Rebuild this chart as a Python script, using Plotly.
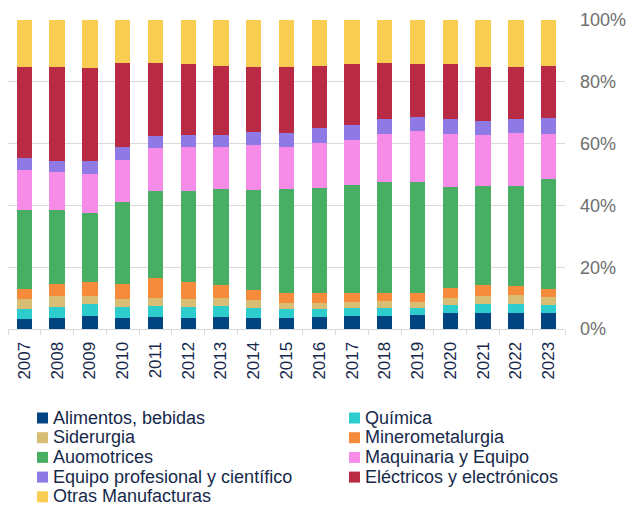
import plotly.graph_objects as go

years = [str(y) for y in range(2007, 2024)]

series_names = [
    "Alimentos, bebidas", "Química", "Siderurgia", "Minerometalurgia",
    "Auomotrices", "Maquinaria y Equipo", "Equipo profesional y científico",
    "Eléctricos y electrónicos", "Otras Manufacturas",
]
series_colors = [
    "#004481", "#2DCCCD", "#D8BE75", "#F78B3C", "#48AE64",
    "#F78BE8", "#8F7AE5", "#B92A45", "#F8CD51",
]

alimentos = [3.1, 3.5, 4.2, 3.7, 3.8, 3.7, 3.8, 3.5, 3.7, 3.9, 4.2, 4.2, 4.4, 5.3, 5.3, 5.3, 5.3]
quimica = [3.4, 3.5, 3.9, 3.4, 3.6, 3.5, 3.5, 3.3, 2.9, 2.7, 2.7, 2.6, 2.5, 2.6, 2.8, 2.8, 2.6]
siderurgia = [3.1, 3.8, 2.6, 2.6, 2.7, 2.5, 2.7, 2.6, 1.9, 1.8, 1.7, 2.3, 1.9, 2.1, 2.7, 3.0, 2.4]
minero = [3.4, 3.7, 4.5, 5.0, 6.3, 5.6, 4.1, 3.2, 3.1, 3.4, 3.1, 2.7, 3.0, 3.3, 3.4, 2.9, 2.6]
automotrices = [25.5, 24.0, 22.2, 26.4, 28.4, 29.3, 31.1, 32.5, 33.6, 33.8, 34.8, 35.8, 35.9, 32.8, 32.1, 32.4, 35.6]
maquinaria = [13.1, 12.2, 12.8, 13.6, 13.9, 14.4, 13.6, 14.3, 13.8, 14.6, 14.8, 15.6, 16.4, 17.1, 16.5, 17.1, 14.6]
equipo_prof = [3.7, 3.8, 4.3, 4.1, 3.8, 3.9, 4.0, 4.4, 4.5, 4.8, 4.6, 4.8, 4.6, 4.8, 4.5, 4.5, 5.2]
electricos = [29.5, 30.4, 30.0, 27.4, 23.5, 22.8, 22.3, 21.1, 21.2, 20.0, 20.0, 18.1, 17.2, 17.9, 17.6, 16.8, 16.8]
otras = [15.2, 15.1, 15.5, 13.8, 14.0, 14.3, 14.9, 15.1, 15.3, 15.0, 14.1, 13.9, 14.1, 14.1, 15.1, 15.2, 14.9]

series_values = [alimentos, quimica, siderurgia, minero, automotrices,
                 maquinaria, equipo_prof, electricos, otras]

y_ticks = [0, 20, 40, 60, 80, 100]
y_tick_labels = ["0%", "20%", "40%", "60%", "80%", "100%"]

FONT = "Arial, Liberation Sans, sans-serif"
NAVY = "#16294B"

fig = go.Figure()
for name, color, vals in zip(series_names, series_colors, series_values):
    fig.add_trace(go.Bar(x=years, y=vals, name=name, marker_color=color,
                         marker_line_width=0, showlegend=False))

# plot area in pixels (for manual legend placement)
W, H = 640, 507
L, R, T, B = 8, 75, 20, 178
pw, ph = W - L - R, H - T - B

def px_to_paper(x, y):
    return (x - L) / pw, (H - B - y) / ph

shapes = []
annotations = []
for i, (name, color) in enumerate(zip(series_names, series_colors)):
    col, row = i % 2, i // 2
    sx = 37 if col == 0 else 349
    cy = 418 + 19.7 * row
    x0, y0 = px_to_paper(sx, cy + 5.5)
    x1, y1 = px_to_paper(sx + 11, cy - 5.5)
    shapes.append(dict(type="rect", xref="paper", yref="paper", x0=x0, y0=y0,
                       x1=x1, y1=y1, fillcolor=color, line=dict(width=0)))
    tx, ty = px_to_paper(sx + 14, cy - 0.5)
    annotations.append(dict(xref="paper", yref="paper", x=tx, y=ty, text=name,
                            showarrow=False, xanchor="left", yanchor="middle",
                            font=dict(family=FONT, size=18, color=NAVY)))

fig.update_layout(
    width=W, height=H,
    margin=dict(l=L, r=R, t=T, b=B),
    barmode="stack", barnorm="percent", bargap=0.53,
    plot_bgcolor="white", paper_bgcolor="white",
    font=dict(family=FONT),
    shapes=shapes, annotations=annotations,
    showlegend=False,
    xaxis=dict(
        type="category", tickangle=-90, showgrid=False,
        showline=True, linecolor="#D9D9D9", linewidth=1,
        ticks="outside", tickson="boundaries", ticklen=5, tickcolor="#D9D9D9",
        ticklabelstandoff=5,
        tickfont=dict(family=FONT, size=17, color=NAVY),
    ),
    yaxis=dict(
        side="right", range=[0, 100], tickvals=y_ticks, ticktext=y_tick_labels,
        showgrid=True, gridcolor="#D9D9D9", gridwidth=1, zeroline=False,
        ticks="", ticklabelstandoff=14,
        tickfont=dict(family=FONT, size=18, color="#6E6E6E"),
    ),
)

fig.write_html(
    "out.html",
    config={"displayModeBar": False},
    post_script="document.body.style.margin='0';document.body.style.overflow='hidden';",
)
